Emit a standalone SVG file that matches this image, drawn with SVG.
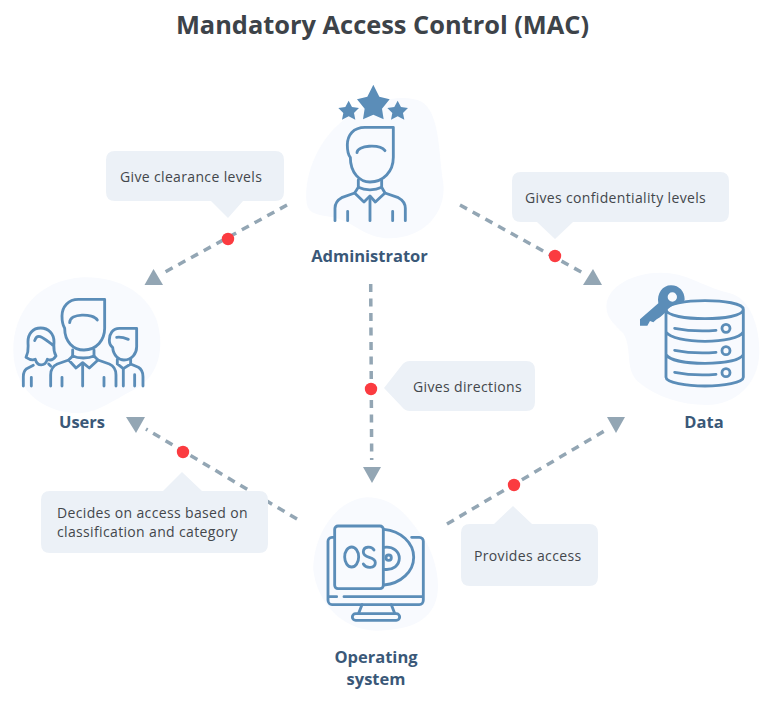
<svg xmlns="http://www.w3.org/2000/svg" width="760" height="702" viewBox="0 0 760 702">
<style>
.t{font-family:"Open Sans","Liberation Sans",sans-serif}
.title{font-size:25.4px;font-weight:700;fill:#3d4349;text-anchor:middle}
.lab{font-size:16.5px;font-weight:700;fill:#3a5878;text-anchor:middle}
.c{font-size:14px;font-weight:400;fill:#43474c;letter-spacing:.35px}
.blob{fill:#f8fafe}
.bub{fill:#ecf1f7}
.ic{fill:none;stroke:#5b8db8;stroke-width:8.500;stroke-linecap:round;stroke-linejoin:round}
.icf{fill:#5b8db8}
.d{fill:none;stroke:#93a6b4;stroke-width:3.500;stroke-dasharray:8 6.500}
.ah{fill:#93a6b4}
.dot{fill:#fb3b40}
</style>
<rect width="760" height="702" fill="#fff"/>
<text class="t title" x="382.500" y="34">Mandatory Access Control (MAC)</text>

<g id="connectors">
<path class="d" d="M287 205L165 272"/><path class="ah" d="M153.500 269L163 285H144.500Z"/>
<path class="d" d="M460 205L583 273"/><path class="ah" d="M593 269L602 285H583Z"/>
<path class="d" d="M370.700 284L371.700 460"/><path class="ah" d="M363 467H381L372 483Z"/>
<path class="d" d="M297 519L146 429"/><path class="ah" d="M126 417H145L136 433Z"/>
<path class="d" d="M447 524L606 430"/><path class="ah" d="M607 417H625L616 433Z"/>
<circle class="dot" cx="228" cy="239" r="6.200"/>
<circle class="dot" cx="555" cy="256" r="6.200"/>
<circle class="dot" cx="371" cy="389" r="6.200"/>
<circle class="dot" cx="183" cy="452" r="6.200"/>
<circle class="dot" cx="514" cy="485" r="6.200"/>
</g>

<g id="note-clearance">
<path class="bub" d="M115 151H275Q284 151 284 160V192Q284 201 275 201H243L228 218L211 201H115Q106 201 106 192V160Q106 151 115 151Z"/>
<text class="t c" x="120" y="182">Give clearance levels</text>
</g>
<g id="note-confidentiality">
<path class="bub" d="M521 172H720Q729 172 729 181V213Q729 222 720 222H573L555 239L537 222H521Q512 222 512 213V181Q512 172 521 172Z"/>
<text class="t c" x="525" y="203">Gives confidentiality levels</text>
</g>
<g id="note-directions">
<path class="bub" d="M410 361H526Q535 361 535 370V402Q535 411 526 411H410Q405 411 402 407L384 388L402 365Q405 361 410 361Z"/>
<text class="t c" x="413" y="392">Gives directions</text>
</g>
<g id="note-decides">
<path class="bub" d="M50 491H163L182 472L202 491H259Q268 491 268 500V544Q268 553 259 553H50Q41 553 41 544V500Q41 491 50 491Z"/>
<text class="t c" x="57" y="518">Decides on access based on</text>
<text class="t c" x="57" y="537">classification and category</text>
</g>
<g id="note-provides">
<path class="bub" d="M470 524H494L513 506L532 524H589Q598 524 598 533V577Q598 586 589 586H470Q461 586 461 577V533Q461 524 470 524Z"/>
<text class="t c" x="474" y="561">Provides access</text>
</g>

<g id="administrator">
<g transform="translate(290 70) scale(.3333)">
<path class="blob" d="M50 400C40 310 90 190 190 130C260 90 340 70 395 95C450 130 445 240 460 340C470 430 400 505 300 505C220 505 190 450 120 440C80 435 55 430 50 400Z"/>
<path class="icf" d="M250 44L268 80L299 88L276 116L281 148L250 134L219 148L224 116L201 88L232 80Z"/>
<path class="icf" d="M176 92L186 111L207 114L192 129L196 149L176 139L156 149L160 129L145 114L166 111Z"/>
<path class="icf" d="M323 92L333 111L354 114L339 129L343 149L323 139L303 149L307 129L292 114L313 111Z"/>
<path class="ic" d="M310 172H225C190 172 172 195 172 225C172 245 175 255 181 262C181 310 210 336 240 336C280 336 310 305 310 262Z"/>
<path class="ic" d="M201 248C201 225 270 222 285 242"/>
<path class="ic" d="M205 330V352M275 352V330"/>
<path class="ic" d="M205 352L194 369L222 396L240 378L256 396L285 369L275 352M205 352C225 362 255 362 275 352"/>
<path class="ic" d="M194 369L155 383C142 390 135 400 135 415V452M285 369L325 383C338 390 346 400 346 415V452M240 385V452M173 424V452M308 424V452"/>
</g>
<text class="t lab" x="369.500" y="262">Administrator</text>
</g>

<g id="users">
<g transform="translate(0 270) scale(.3333)">
<path class="blob" d="M40 240C40 130 110 30 250 22C360 20 440 70 470 150C495 230 480 320 400 360C340 390 300 425 240 430C120 430 40 350 40 240Z"/>
<path class="ic" d="M314 88H235C205 88 186 110 186 138C186 150 188 165 194 175C194 215 220 240 252 240C290 240 314 210 314 175Z"/>
<path class="ic" d="M209 158C209 128 280 130 292 150"/>
<path class="ic" d="M218 240V258M282 258V240"/>
<path class="ic" d="M218 258L206 270L228 294L248 278L268 294L294 270L282 258M218 258C235 266 265 266 282 258"/>
<path class="ic" d="M206 270L172 282C158 288 152 300 152 315V348M294 270L328 282C342 288 348 300 348 315V348M248 285V348M186 322V348M312 322V348"/>
<path class="ic" d="M104 212C112 186 130 204 158 225M122 174C98 174 84 192 84 215C84 235 88 240 78 262C90 270 98 272 106 268C112 290 135 290 142 268C150 272 160 270 168 258C158 240 162 232 162 215C162 192 146 174 122 174Z"/>
<path class="ic" d="M100 286L80 296C72 302 70 310 70 320V348M146 282L152 288M94 322V348"/>
<path class="ic" d="M410 175H358C338 175 328 192 328 210C328 218 332 228 338 232C340 258 358 270 372 270C396 270 410 250 410 230Z"/>
<path class="ic" d="M350 202C362 200 375 204 385 208"/>
<path class="ic" d="M352 268V282L370 296L392 282V268"/>
<path class="ic" d="M392 282L415 292C425 298 429 308 429 320V348M370 296V348M404 314V348"/>
</g>
<text class="t lab" x="82" y="428">Users</text>
</g>

<g id="data">
<g transform="translate(590 260) scale(.3333)">
<path class="blob" d="M50 130C60 70 150 30 240 40C310 50 350 85 420 100C480 115 510 200 508 280C505 370 440 435 350 435C270 435 200 410 150 370C100 330 130 270 100 220C70 190 45 170 50 130Z"/>
<path class="ic" d="M228 148C228 130 290 122 345 122C400 122 460 130 460 148C460 168 400 176 345 176C290 176 228 168 228 148ZM228 148V352C228 368 290 378 345 378C400 378 460 368 460 352V148M228 216C240 234 290 244 345 244C400 244 450 234 460 216M228 284C240 302 290 310 345 310C400 310 450 302 460 284"/>
<path class="ic" d="M254 205C290 212 340 214 378 211M254 271C290 278 340 280 378 277M254 337C290 344 340 346 378 343"/>
<circle class="ic" cx="408" cy="205" r="12"/><circle class="ic" cx="408" cy="272" r="12"/><circle class="ic" cx="408" cy="338" r="12"/>
<path class="icf" fill-rule="evenodd" d="M243 76C268 76 284 95 284 118C284 126 270 128 250 136C240 142 230 150 228 156L210 172L200 178L190 187L180 183L172 197L150 197V178L205 130C200 100 218 76 243 76ZM247 97A14 14 0 1 0 247 125A14 14 0 1 0 247 97Z"/>
</g>
<text class="t lab" x="704" y="428">Data</text>
</g>

<g id="operating-system">
<g transform="translate(300 490) scale(.3333)">
<path class="blob" d="M40 240C40 130 110 30 200 22C290 22 330 90 375 150C410 210 425 290 405 340C380 400 320 420 230 422C120 420 50 330 40 240Z"/>
<path class="ic" d="M103 142H96C88 142 84 148 84 154V330C84 338 90 344 96 344H358C365 344 370 338 370 330V154C370 148 365 142 358 142H335M84 320H110M132 320H370"/>
<rect class="ic" x="104" y="108" width="146" height="188" rx="10"/>
<path class="ic" d="M252 118A100 84 0 0 1 252 285M252 172C280 168 298 185 298 205C298 225 280 242 252 238"/>
<circle class="ic" cx="266" cy="203" r="8"/>
<path class="ic" d="M186 344L176 370M274 344L284 370"/>
<rect class="ic" x="157" y="371" width="142" height="20" rx="10"/>
<ellipse class="ic" cx="155" cy="201" rx="21" ry="30"/>
<path class="ic" d="M222 180C215 168 190 168 190 186C190 208 226 196 226 218C226 236 198 236 190 222"/>
</g>
<text class="t lab" x="376" y="663">Operating</text>
<text class="t lab" x="376" y="685">system</text>
</g>
</svg>
